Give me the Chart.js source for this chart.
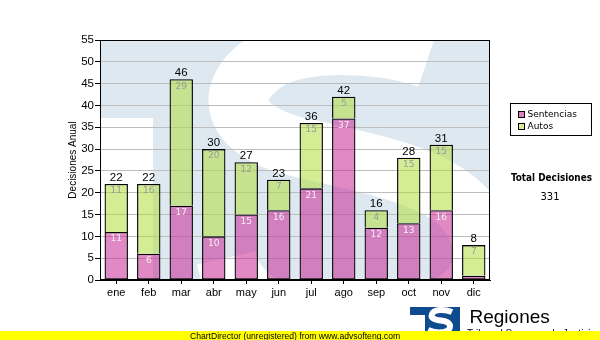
<!DOCTYPE html>
<html>
<head>
<meta charset="utf-8">
<script src="https://cdn.jsdelivr.net/npm/chart.js@4"></script>
<style>
  html, body { margin: 0; padding: 0; background: #ffffff; }
  canvas { display: block; }
</style>
</head>
<body>
<canvas id="chart" width="600" height="340"></canvas>
<script>
// Monthly decisions, split into sentencias and autos
const months = ['ene', 'feb', 'mar', 'abr', 'may', 'jun', 'jul', 'ago', 'sep', 'oct', 'nov', 'dic'];
const sentencias = [11, 6, 17, 10, 15, 16, 21, 37, 12, 13, 16, 1];
const autos = [11, 16, 29, 20, 12, 7, 15, 5, 4, 15, 15, 7];
const yMin = 0;
const yMax = 55;
const yStep = 5;

const seriesNames = ['Sentencias', 'Autos'];
const seriesColors = ['rgba(200, 40, 150, 0.55)', 'rgba(176, 220, 60, 0.55)'];
const legendSwatch = ['#de7fc1', '#d6ee96'];
const labelColors = ['#f6eef4', '#9a9a9a'];

const totals = months.map((m, i) => sentencias[i] + autos[i]);
const grandTotal = totals.reduce((a, b) => a + b, 0);

const WATERMARK = '#dee8f1';
const LOGO_BLUE = '#0f4b8f';

// Light "TS" emblem behind the plot area
const watermark = {
  id: 'watermark',
  beforeDraw(chart) {
    const { ctx, chartArea: a } = chart;
    ctx.save();
    ctx.beginPath();
    ctx.rect(a.left, a.top, a.right - a.left, a.bottom - a.top);
    ctx.clip();
    ctx.fillStyle = WATERMARK;
    ctx.fillRect(a.left, a.top, a.right - a.left, a.bottom - a.top);
    ctx.fillStyle = '#ffffff';
    ctx.fillRect(a.left, 118, 153 - a.left, a.bottom - 118);
    ctx.strokeStyle = '#ffffff';
    ctx.lineWidth = 60;
    ctx.lineCap = 'butt';
    ctx.beginPath();
    ctx.moveTo(428, 58);
    ctx.bezierCurveTo(380, 42, 300, 38, 265, 62);
    ctx.bezierCurveTo(222, 92, 232, 128, 290, 145);
    ctx.bezierCurveTo(350, 160, 440, 172, 470, 215);
    ctx.bezierCurveTo(500, 260, 480, 310, 400, 320);
    ctx.bezierCurveTo(320, 330, 240, 320, 226, 258);
    ctx.stroke();
    ctx.restore();
  }
};

// Frame, segment values and column totals
const barLabels = {
  id: 'barLabels',
  afterDatasetsDraw(chart) {
    const { ctx, chartArea: a } = chart;
    ctx.save();
    ctx.strokeStyle = '#000000';
    ctx.lineWidth = 1;
    ctx.strokeRect(a.left + 0.5, a.top + 0.5, a.right - a.left - 1, a.bottom - a.top - 1);

    ctx.textAlign = 'center';
    ctx.textBaseline = 'middle';
    ctx.font = '9px "DejaVu Sans"';
    chart.data.datasets.forEach((ds, di) => {
      const meta = chart.getDatasetMeta(di);
      meta.data.forEach((bar, j) => {
        const p = bar.getProps(['x', 'y', 'base'], true);
        if (p.base - p.y < 12) return;
        ctx.fillStyle = labelColors[di];
        ctx.fillText(String(ds.data[j]), p.x, p.y + 7);
      });
    });

    const top = chart.getDatasetMeta(chart.data.datasets.length - 1);
    ctx.font = '11.5px "Liberation Sans"';
    ctx.fillStyle = '#000000';
    ctx.textBaseline = 'alphabetic';
    top.data.forEach((bar, j) => {
      const p = bar.getProps(['x', 'y'], true);
      ctx.fillText(String(totals[j]), p.x, p.y - 3);
    });
    ctx.restore();
  }
};

// Legend box, grand total, emblem and footer strip
const sidePanel = {
  id: 'sidePanel',
  afterDraw(chart) {
    const { ctx } = chart;
    ctx.save();
    ctx.fillStyle = '#ffffff';
    ctx.fillRect(510, 103, 82, 33);
    ctx.strokeStyle = '#000000';
    ctx.lineWidth = 1;
    ctx.strokeRect(510.5, 103.5, 81, 32);
    ctx.font = '9px "DejaVu Sans"';
    ctx.textBaseline = 'middle';
    ctx.textAlign = 'left';
    seriesNames.forEach((name, i) => {
      const y = 114 + i * 12;
      ctx.fillStyle = legendSwatch[i];
      ctx.fillRect(518, y - 3, 7, 7);
      ctx.strokeStyle = '#000000';
      ctx.strokeRect(518.5, y - 2.5, 6, 6);
      ctx.fillStyle = '#000000';
      ctx.fillText(name, 527.5, y + 0.5);
    });

    ctx.textAlign = 'center';
    ctx.font = 'bold 9.9px "DejaVu Sans Condensed"';
    ctx.fillText('Total Decisiones', 551.5, 178.5);
    ctx.font = '10px "DejaVu Sans"';
    ctx.fillText(String(grandTotal), 550, 197);

    // emblem
    ctx.fillStyle = LOGO_BLUE;
    ctx.fillRect(410, 307, 50, 26);
    ctx.fillStyle = '#ffffff';
    ctx.fillRect(410, 315, 15, 18);
    ctx.strokeStyle = '#ffffff';
    ctx.lineWidth = 6;
    ctx.beginPath();
    ctx.moveTo(452, 312);
    ctx.bezierCurveTo(445, 309, 434, 309, 432, 314);
    ctx.bezierCurveTo(430, 319, 436, 320, 444, 321);
    ctx.bezierCurveTo(452, 323, 452, 330, 444, 332);
    ctx.bezierCurveTo(438, 333, 432, 332, 428, 330);
    ctx.stroke();

    ctx.fillStyle = '#000000';
    ctx.textAlign = 'left';
    ctx.textBaseline = 'alphabetic';
    ctx.font = '19px "Liberation Sans"';
    ctx.fillText('Regiones', 469.5, 323);
    ctx.font = '10px "Liberation Sans"';
    ctx.fillText('Tribunal Supremo de Justicia', 467, 337);

    // footer strip
    ctx.fillStyle = '#ffff00';
    ctx.fillRect(0, 331, 600, 9);
    ctx.fillStyle = '#000000';
    ctx.textAlign = 'center';
    ctx.font = '8.6px "Liberation Sans"';
    ctx.fillText('ChartDirector (unregistered) from www.advsofteng.com', 295, 338.5);
    ctx.restore();
  }
};

new Chart(document.getElementById('chart'), {
  type: 'bar',
  data: {
    labels: months,
    datasets: [
      { label: seriesNames[0], data: sentencias, backgroundColor: seriesColors[0],
        borderColor: '#000000', borderWidth: 1.3, borderSkipped: false },
      { label: seriesNames[1], data: autos, backgroundColor: seriesColors[1],
        borderColor: '#000000', borderWidth: 1.3, borderSkipped: 'bottom' }
    ]
  },
  options: {
    responsive: false,
    animation: false,
    layout: { padding: { left: 0, top: 40, right: 110, bottom: 40 } },
    datasets: { bar: { categoryPercentage: 1, barPercentage: 0.72 } },
    plugins: { legend: { display: false }, tooltip: { enabled: false } },
    scales: {
      x: {
        stacked: true,
        afterFit: s => { s.height = 20; },
        grid: { drawOnChartArea: false, offset: false, tickLength: 4, tickColor: '#000000' },
        border: { display: true, color: '#000000', width: 1 },
        ticks: { color: '#000000', font: { family: 'Liberation Sans', size: 11 }, padding: 2, maxRotation: 0 }
      },
      y: {
        stacked: true,
        min: yMin,
        max: yMax,
        afterFit: s => { s.width = 100; },
        grid: { color: '#bdbdbd', lineWidth: 1, tickLength: 5, tickColor: '#000000' },
        border: { display: true, color: '#000000', width: 1 },
        ticks: { stepSize: yStep, color: '#000000', font: { family: 'Liberation Sans', size: 11.5 }, padding: 1 },
        title: { display: true, text: 'Decisiones Anual', color: '#000000',
          font: { family: 'Liberation Sans', size: 10 }, padding: { top: 67, bottom: 0 } }
      }
    }
  },
  plugins: [watermark, barLabels, sidePanel]
});
</script>
</body>
</html>
